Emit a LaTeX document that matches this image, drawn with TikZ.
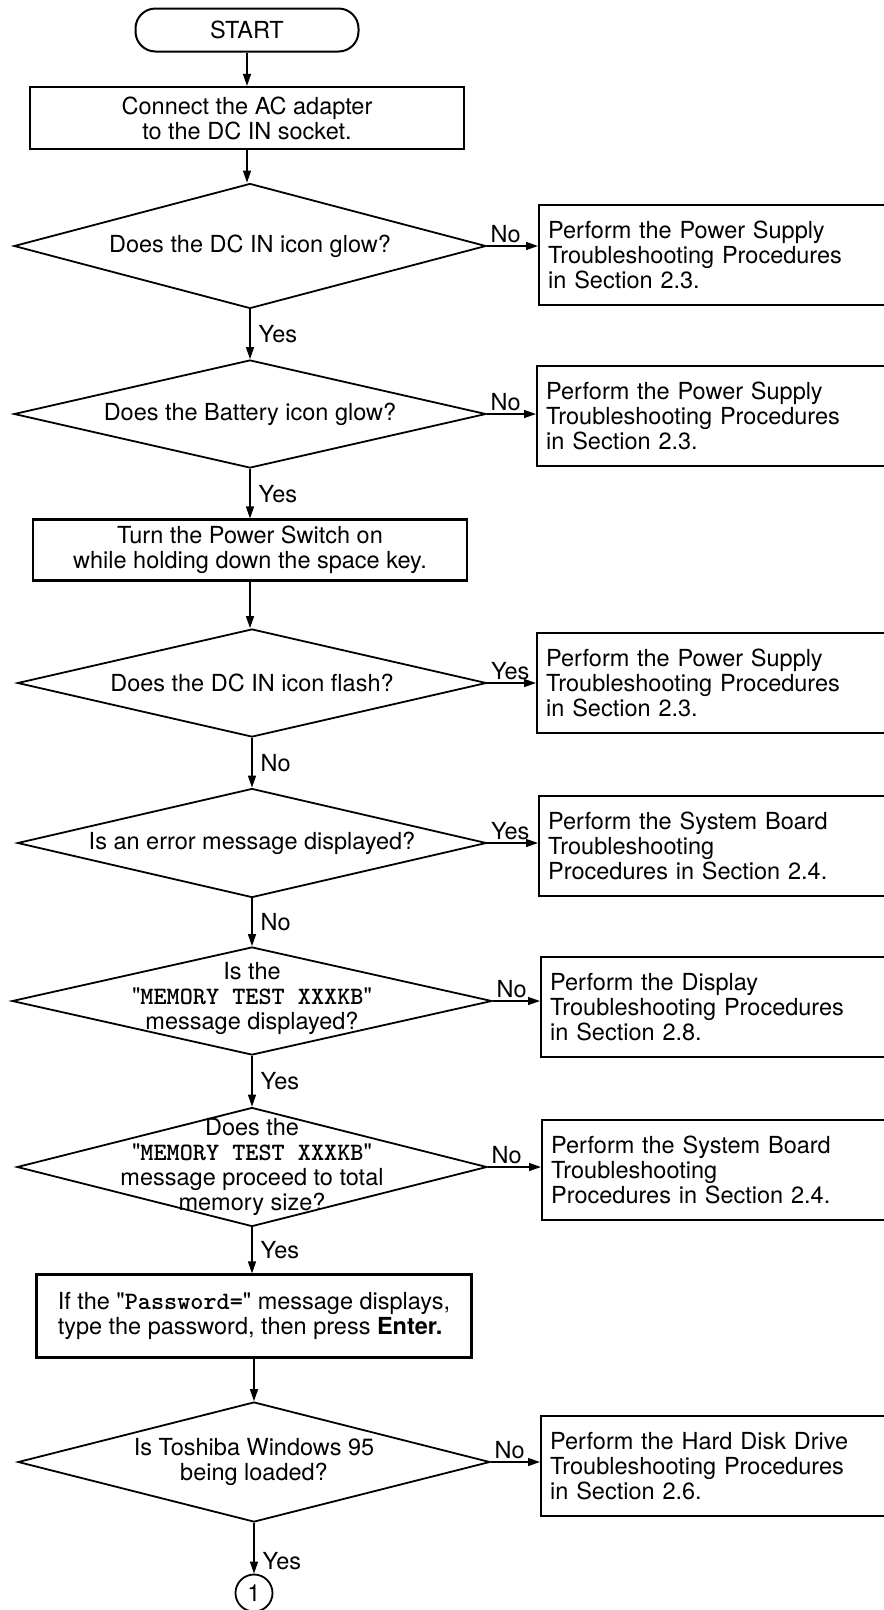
\documentclass[tikz,border=0pt]{standalone}
\usepackage{fontspec}
\setmainfont{TeX Gyre Heros}[Ligatures=TeXOff]
\usetikzlibrary{shapes.geometric,arrows.meta}
\newcommand{\mtt}[1]{{\ttfamily\bfseries\fontsize{25}{25}\selectfont #1}}
\begin{document}
\begin{tikzpicture}[x=1pt,y=-1pt,
  every node/.style={font=\fontsize{23.5}{25}\selectfont},
  proc/.style={draw, line width=2.2pt, align=center, inner sep=0pt},
  startbox/.style={draw, line width=2pt, rounded corners=20pt, minimum width=223pt, minimum height=43pt, inner sep=0pt},
  dia/.style={draw, diamond, line width=1.8pt, inner sep=0pt},
  dtext/.style={align=center, inner sep=0pt},
  rbox/.style={draw, line width=2.4pt, anchor=west, align=left, text width=344pt, inner xsep=9pt, minimum height=100pt},
  arr/.style={line width=1.4pt, -{Triangle[length=12pt,width=8pt]}},
  lab/.style={inner sep=1pt},
  ylab/.style={lab, anchor=west, xshift=7pt},
  nlab/.style={lab, anchor=south west, xshift=2pt, yshift=1pt},
  conn/.style={draw, circle, line width=1.8pt, minimum size=37pt, inner sep=0pt}
]
\useasboundingbox (0,0) rectangle (884,1610);

\node[startbox] (start) at (247,30) {START};
\node[proc, minimum width=434pt, minimum height=62pt] (box1) at (247,118) {Connect the AC adapter\\to the DC IN socket.};

\node[dia, minimum width=472pt, minimum height=125pt] (d1) at (250,246) {};
\node[dtext] (t1) at (d1.center) {Does the DC IN icon glow?};
\node[rbox] (rb1) at (538,255) {Perform the Power Supply\\Troubleshooting Procedures\\in Section 2.3.};

\node[dia, minimum width=472pt, minimum height=108pt] (d2) at (250,414) {};
\node[dtext] (t2) at (d2.center) {Does the Battery icon glow?};
\node[rbox] (rb2) at (536,416) {Perform the Power Supply\\Troubleshooting Procedures\\in Section 2.3.};

\node[proc, minimum width=434pt, minimum height=61pt] (box2) at (250,550) {Turn the Power Switch on\\while holding down the space key.};

\node[dia, minimum width=469pt, minimum height=108pt] (d3) at (252,683) {};
\node[dtext] (t3) at (d3.center) {Does the DC IN icon flash?};
\node[rbox] (rb3) at (536,683) {Perform the Power Supply\\Troubleshooting Procedures\\in Section 2.3.};

\node[dia, minimum width=469pt, minimum height=109pt] (d4) at (252,843) {};
\node[dtext] (t4) at (d4.center) {Is an error message displayed?};
\node[rbox] (rb4) at (538,846) {Perform the System Board\\Troubleshooting\\Procedures in Section 2.4.};

\node[dia, minimum width=480pt, minimum height=108pt] (d5) at (252,1001) {};
\node[dtext] (t5) at ([yshift=3pt]d5.center) {Is the\\"\mtt{MEMORY TEST XXXKB}"\\message displayed?};
\node[rbox] (rb5) at (540,1007) {Perform the Display\\Troubleshooting Procedures\\in Section 2.8.};

\node[dia, minimum width=470pt, minimum height=119pt] (d6) at (252,1167) {};
\node[dtext] (t6) at (d6.center) {Does the\\"\mtt{MEMORY TEST XXXKB}"\\message proceed to total\\memory size?};
\node[rbox] (rb6) at (541,1170) {Perform the System Board\\Troubleshooting\\Procedures in Section 2.4.};

\node[proc, align=left, minimum width=435pt, minimum height=83pt] (pw) at (254,1316) {If the "\mtt{Password=}" message displays,\\type the password, then press \textbf{Enter.}};

\node[dia, minimum width=472pt, minimum height=120pt] (d7) at (254,1462) {};
\node[dtext] (t7) at (d7.center) {Is Toshiba Windows 95\\being loaded?};
\node[rbox] (rb7) at (540,1466) {Perform the Hard Disk Drive\\Troubleshooting Procedures\\in Section 2.6.};

\node[conn] (c1) at (254,1593) {1};

% vertical flow
\draw[arr] (start.south) -- (start.south |- box1.north);
\draw[arr] (box1.south) -- (box1.south |- d1.north);
\draw[arr] (d1.south) -- node[ylab] {Yes} (d1.south |- d2.north);
\draw[arr] (d2.south) -- node[ylab] {Yes} (d2.south |- box2.north);
\draw[arr] (box2.south) -- (box2.south |- d3.north);
\draw[arr] (d3.south) -- node[ylab] {No} (d3.south |- d4.north);
\draw[arr] (d4.south) -- node[ylab] {No} (d4.south |- d5.north);
\draw[arr] (d5.south) -- node[ylab] {Yes} (d5.south |- d6.north);
\draw[arr] (d6.south) -- node[ylab] {Yes} (d6.south |- pw.north);
\draw[arr] (pw.south) -- (pw.south |- d7.north);
\draw[arr] (d7.south) -- node[ylab, pos=0.75] {Yes} (d7.south |- c1.north);

% side branches
\draw[arr] (d1.east) -- node[nlab, pos=0] {No} (d1.east -| rb1.west);
\draw[arr] (d2.east) -- node[nlab, pos=0] {No} (d2.east -| rb2.west);
\draw[arr] (d3.east) -- node[nlab, pos=0] {Yes} (d3.east -| rb3.west);
\draw[arr] (d4.east) -- node[nlab, pos=0] {Yes} (d4.east -| rb4.west);
\draw[arr] (d5.east) -- node[nlab, pos=0] {No} (d5.east -| rb5.west);
\draw[arr] (d6.east) -- node[nlab, pos=0] {No} (d6.east -| rb6.west);
\draw[arr] (d7.east) -- node[nlab, pos=0] {No} (d7.east -| rb7.west);
\end{tikzpicture}
\end{document}
